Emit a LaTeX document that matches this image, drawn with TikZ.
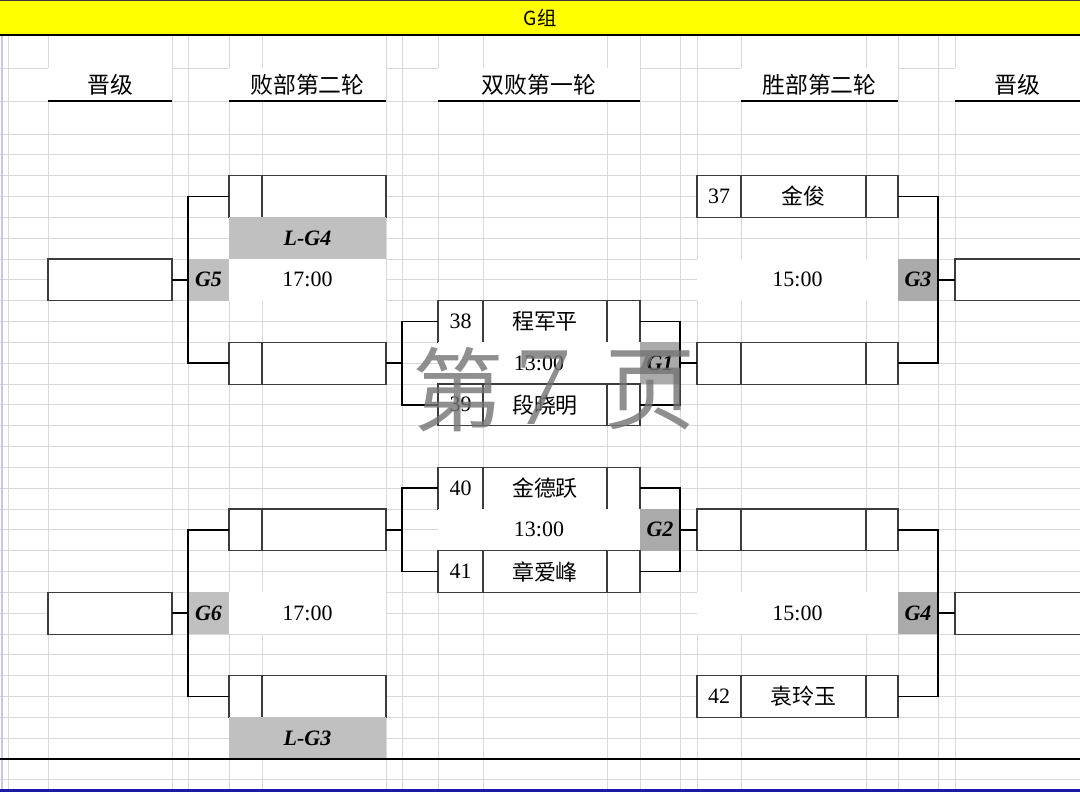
\documentclass[tikz,border=0pt]{standalone}
\usepackage{fontspec}
\setmainfont{Liberation Serif}
\newfontfamily\cjk{Noto Sans CJK SC}
\usetikzlibrary{positioning}
\definecolor{BannerYellow}{HTML}{FFFF00}
\definecolor{GridGray}{HTML}{D9D9D9}
\definecolor{BoxLine}{HTML}{3C3C3C}
\definecolor{LossGray}{HTML}{C0C0C0}
\definecolor{GameGray}{HTML}{AAAAAA}
\definecolor{EdgeBlue}{HTML}{1A1AA6}
\definecolor{EdgeLilac}{HTML}{C8C8E6}
\newcommand{\cellsize}{\fontsize{12.5}{14}\selectfont}

\begin{document}
\begin{tikzpicture}[x=0.2mm, y=-0.2mm, every node/.style={inner sep=0pt, outer sep=0pt, font=\cellsize}]
  \tikzstyle{cellbox}=[rectangle, draw=BoxLine, line width=0.6pt, fill=white, minimum height=8.33mm, align=center]
  \tikzstyle{timecell}=[rectangle, fill=white, minimum height=8.33mm]
  \tikzstyle{losscell}=[rectangle, fill=LossGray, minimum width=31.4mm, minimum height=8.33mm, font=\cellsize\bfseries\itshape]
  \tikzstyle{gamecell}=[rectangle, minimum width=8mm, minimum height=8.33mm, font=\cellsize\bfseries\itshape]
  \tikzstyle{headcell}=[rectangle, fill=white, minimum height=6.6mm, font=\cjk\fontsize{13}{15}\selectfont]
  \tikzstyle{headrule}=[line width=1.2pt]
  \tikzstyle{bracket}=[line width=1pt]
  \tikzstyle{gridline}=[GridGray, line width=0.5pt]
  \tikzstyle{stamp}=[text=black!55, opacity=0.8]

  % sheet and grid
  \fill[white] (0,0) rectangle (1080,792);
  \useasboundingbox (0,0) rectangle (1080,792);
  \foreach \gx in {8,48,172,188,229,262,386,402,438,483,607,640,680,697,741,866,898,938,955}
    \draw[gridline] (\gx,35) -- (\gx,792);
  \foreach \gy in {68,101,134}
    \draw[gridline] (0,\gy) -- (1080,\gy);
  \foreach \k in {1,...,31}
    \draw[gridline] (0,{134+20.833*\k}) -- (1080,{134+20.833*\k});
  \draw[EdgeLilac, line width=0.8pt] (2,35) -- (2,792);

  % banner
  \fill[BannerYellow] (0,0) rectangle (1080,35);
  \draw[BoxLine, line width=0.6pt] (0,0.5) -- (1080,0.5);
  \draw[line width=1.2pt] (0,35) -- (1080,35);
  \node[font=\cjk\fontsize{11}{12}\selectfont] (title) at (540,18) {G组};

  % column heads
  \node[headcell, minimum width=24.8mm] (hq1) at (110,84.5) {晋级};
  \node[headcell, minimum width=31.4mm] (hl) at (307.5,84.5) {败部第二轮};
  \node[headcell, minimum width=40.4mm] (hd) at (539,84.5) {双败第一轮};
  \node[headcell, minimum width=31.4mm] (hw) at (819.5,84.5) {胜部第二轮};
  \node[headcell, minimum width=25mm] (hq2) at (1017.5,84.5) {晋级};
  \foreach \h in {hq1,hl,hd,hw,hq2}
    \draw[headrule] (\h.south west) -- (\h.south east);

  % losers' second round
  \node[cellbox, minimum width=6.6mm] (l1s) at (245.5,196.5) {};
  \node[cellbox, minimum width=24.8mm, right=0pt of l1s] (l1n) {};
  \node[losscell] (lg4) at (307.5,238.2) {L-G4};
  \node[timecell, minimum width=31.4mm] (t5) at (307.5,279.8) {17:00};
  \node[cellbox, minimum width=6.6mm] (l2s) at (245.5,363.2) {};
  \node[cellbox, minimum width=24.8mm, right=0pt of l2s] (l2n) {};
  \node[cellbox, minimum width=6.6mm] (l3s) at (245.5,529.8) {};
  \node[cellbox, minimum width=24.8mm, right=0pt of l3s] (l3n) {};
  \node[timecell, minimum width=31.4mm] (t6) at (307.5,613.2) {17:00};
  \node[cellbox, minimum width=6.6mm] (l4s) at (245.5,696.5) {};
  \node[cellbox, minimum width=24.8mm, right=0pt of l4s] (l4n) {};
  \node[losscell] (lg3) at (307.5,738.2) {L-G3};
  \node[gamecell, minimum width=8.2mm, fill=LossGray] (g5) at (208.5,279.8) {G5};
  \node[gamecell, minimum width=8.2mm, fill=LossGray] (g6) at (208.5,613.2) {G6};

  % double-loss first round
  \node[cellbox, minimum width=9mm] (d1s) at (460.5,321.5) {38};
  \node[cellbox, minimum width=24.8mm, right=0pt of d1s] (d1n) {\cjk 程军平};
  \node[cellbox, minimum width=6.6mm, right=0pt of d1n] (d1x) {};
  \node[timecell, minimum width=40.4mm] (t1) at (539,363.2) {13:00};
  \node[gamecell, fill=GameGray] (g1) at (660,363.2) {G1};
  \node[cellbox, minimum width=9mm] (d2s) at (460.5,404.8) {39};
  \node[cellbox, minimum width=24.8mm, right=0pt of d2s] (d2n) {\cjk 段晓明};
  \node[cellbox, minimum width=6.6mm, right=0pt of d2n] (d2x) {};
  \node[cellbox, minimum width=9mm] (d3s) at (460.5,488.2) {40};
  \node[cellbox, minimum width=24.8mm, right=0pt of d3s] (d3n) {\cjk 金德跃};
  \node[cellbox, minimum width=6.6mm, right=0pt of d3n] (d3x) {};
  \node[timecell, minimum width=40.4mm] (t2) at (539,529.8) {13:00};
  \node[gamecell, fill=GameGray] (g2) at (660,529.8) {G2};
  \node[cellbox, minimum width=9mm] (d4s) at (460.5,571.5) {41};
  \node[cellbox, minimum width=24.8mm, right=0pt of d4s] (d4n) {\cjk 章爱峰};
  \node[cellbox, minimum width=6.6mm, right=0pt of d4n] (d4x) {};

  % winners' second round
  \node[cellbox, minimum width=8.8mm] (w1s) at (719,196.5) {37};
  \node[cellbox, minimum width=25mm, right=0pt of w1s] (w1n) {\cjk 金俊};
  \node[cellbox, minimum width=6.4mm, right=0pt of w1n] (w1x) {};
  \node[timecell, minimum width=40.2mm] (t3) at (797.5,279.8) {15:00};
  \node[gamecell, fill=GameGray] (g3) at (918,279.8) {G3};
  \node[cellbox, minimum width=8.8mm] (w2s) at (719,363.2) {};
  \node[cellbox, minimum width=25mm, right=0pt of w2s] (w2n) {};
  \node[cellbox, minimum width=6.4mm, right=0pt of w2n] (w2x) {};
  \node[cellbox, minimum width=8.8mm] (w3s) at (719,529.8) {};
  \node[cellbox, minimum width=25mm, right=0pt of w3s] (w3n) {};
  \node[cellbox, minimum width=6.4mm, right=0pt of w3n] (w3x) {};
  \node[timecell, minimum width=40.2mm] (t4) at (797.5,613.2) {15:00};
  \node[gamecell, fill=GameGray] (g4) at (918,613.2) {G4};
  \node[cellbox, minimum width=8.8mm] (w4s) at (719,696.5) {42};
  \node[cellbox, minimum width=25mm, right=0pt of w4s] (w4n) {\cjk 袁玲玉};
  \node[cellbox, minimum width=6.4mm, right=0pt of w4n] (w4x) {};

  % qualifiers
  \node[cellbox, minimum width=24.8mm] (q1) at (110,279.8) {};
  \node[cellbox, minimum width=24.8mm] (q2) at (110,613.2) {};
  \node[cellbox, minimum width=25.2mm] (q3) at (1018,279.8) {};
  \node[cellbox, minimum width=25.2mm] (q4) at (1018,613.2) {};

  % brackets
  \coordinate (j1) at (402,363.2);
  \coordinate (j2) at (402,529.8);
  \draw[bracket] (l1s.west) -| (g5.west) |- (l2s.west);
  \draw[bracket] (q1.east) -- (g5.west);
  \draw[bracket] (l3s.west) -| (g6.west) |- (l4s.west);
  \draw[bracket] (q2.east) -- (g6.west);
  \draw[bracket] (l2n.east) -- (j1);
  \draw[bracket] (d1s.west) -| (j1) |- (d2s.west);
  \draw[bracket] (l3n.east) -- (j2);
  \draw[bracket] (d3s.west) -| (j2) |- (d4s.west);
  \draw[bracket] (d1x.east) -| (g1.east) |- (d2x.east);
  \draw[bracket] (g1.east) -- (w2s.west);
  \draw[bracket] (d3x.east) -| (g2.east) |- (d4x.east);
  \draw[bracket] (g2.east) -- (w3s.west);
  \draw[bracket] (w1x.east) -| (g3.east) |- (w2x.east);
  \draw[bracket] (g3.east) -- (q3.west);
  \draw[bracket] (w3x.east) -| (g4.east) |- (w4x.east);
  \draw[bracket] (g4.east) -- (q4.west);

  % bottom edge
  \draw[line width=1.2pt] (0,759) -- (1080,759);
  \fill[EdgeBlue] (0,789) rectangle (1080,792);

  % page watermark
  \node[stamp, font=\cjk\fontsize{52}{52}\selectfont] (wm1) at (458,390) {第};
  \node[stamp, font=\fontsize{64}{64}\selectfont] (wm2) at (543,388) {7};
  \node[stamp, font=\cjk\fontsize{52}{52}\selectfont] (wm3) at (650,390) {页};
\end{tikzpicture}
\end{document}
